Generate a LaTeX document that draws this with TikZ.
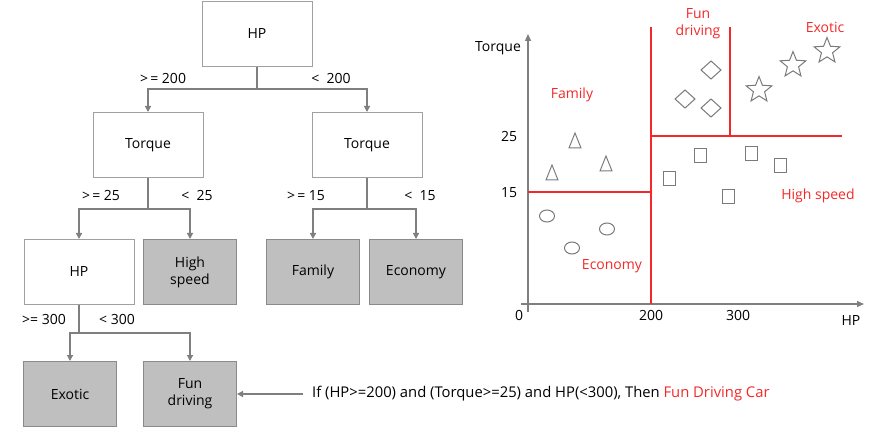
\documentclass[tikz,border=0pt]{standalone}
\usepackage{fontspec}
\setmainfont{Open Sans}
\usetikzlibrary{arrows.meta,shapes.geometric}
\definecolor{boxline}{HTML}{A0A0A0}
\definecolor{boxfill}{HTML}{BFBFBF}
\definecolor{leafline}{HTML}{8A8A8A}
\definecolor{conn}{HTML}{7F7F7F}
\definecolor{redc}{HTML}{F42828}
\definecolor{markc}{HTML}{7A7A7A}
\begin{document}
\begin{tikzpicture}[x=1pt,y=-1pt,
  every node/.style={font=\fontsize{14}{17}\selectfont, text=black},
  splitbox/.style={draw=boxline, line width=1pt, fill=white, minimum width=110pt, minimum height=65pt, inner sep=0pt},
  leafbox/.style={draw=leafline, line width=1pt, fill=boxfill, minimum width=93pt, minimum height=65pt, inner sep=0pt, align=center},
  connline/.style={draw=conn, line width=1.3pt, -{Triangle[length=6pt,width=6pt]}},
  axisline/.style={draw=conn, line width=1.3pt, -{Triangle[length=7pt,width=6pt]}},
  edgelab/.style={inner sep=1pt},
  redlab/.style={text=redc, align=center, inner sep=0pt},
  redline/.style={draw=redc, line width=1.2pt},
  marker/.style={draw=markc, line width=1pt},
]
\useasboundingbox (0,0) rectangle (869,430);
% ---------- tree ----------
\node[splitbox] (hp1) at (257,34) {HP};
\node[splitbox] (tq1) at (148,145) {Torque};
\node[splitbox] (tq2) at (367,145) {Torque};
\node[splitbox] (hp2) at (79,272) {HP};
\node[leafbox] (hs) at (190,272) {High\\speed};
\node[leafbox] (fam) at (313,272) {Family};
\node[leafbox] (eco) at (416,272) {Economy};
\node[leafbox] (exo) at (70,394) {Exotic};
\node[leafbox] (fun) at (190,394) {Fun\\driving};

\draw[connline] (hp1.south) -- ++(0,22) -| (tq1.north);
\draw[connline] (hp1.south) -- ++(0,22) -| (tq2.north);
\draw[connline] (tq1.south) -- ++(0,31) -| (hp2.north);
\draw[connline] (tq1.south) -- ++(0,31) -| (hs.north);
\draw[connline] (tq2.south) -- ++(0,31) -| (fam.north);
\draw[connline] (tq2.south) -- ++(0,31) -| (eco.north);
\draw[connline] (hp2.south) -- ++(0,28) -| (exo.north);
\draw[connline] (hp2.south) -- ++(0,28) -| (fun.north);

\node[edgelab] (l1) at (163,78) {>\,= 200};
\node[edgelab] (l2) at (331,78) {<\ \ 200};
\node[edgelab] (l3) at (101,196) {>\,= 25};
\node[edgelab] (l4) at (197,196) {<\ \ 25};
\node[edgelab] (l5) at (306,196) {>\,= 15};
\node[edgelab] (l6) at (420,196) {<\ \ 15};
\node[edgelab] (l7) at (44,319) {>= 300};
\node[edgelab] (l8) at (117,319) {<\ 300};

\node[anchor=west, inner sep=0pt, font=\fontsize{14.8}{18}\selectfont] (rule) at (312,394) {If (HP>=200) and (Torque>=25) and HP(<300), Then \textcolor{redc}{Fun Driving Car}};
\draw[connline] (rule.west) ++(-9,0) coordinate (rs) -- (fun.east);

% ---------- chart ----------
\coordinate (yb) at (528,312);
\coordinate (yt) at (528,34);
\coordinate (xl) at (521,304);
\coordinate (xr) at (864,304);
\draw[axisline] (yb) -- (yt);
\draw[axisline] (xl) -- (xr);

\node (tql) at (498,48) {Torque};
\node (t25) at (509,137) {25};
\node (t15) at (509,193) {15};
\node (t0) at (519,315) {0};
\node (t200) at (651,315) {200};
\node (t300) at (738,315) {300};
\node (thp) at (851,321) {HP};

\coordinate (v1t) at (651,27);
\coordinate (v1b) at (651,304);
\coordinate (h1l) at (528,192);
\coordinate (h1r) at (651,192);
\coordinate (h2l) at (651,136);
\coordinate (h2r) at (842,136);
\coordinate (v2t) at (730,27);
\coordinate (v2b) at (730,136);
\draw[redline] (v1t) -- (v1b);
\draw[redline] (h1l) -- (h1r);
\draw[redline] (h2l) -- (h2r);
\draw[redline] (v2t) -- (v2b);

\node[redlab] (rfun) at (698,24) {Fun\\driving};
\node[redlab] (rexo) at (825,27) {Exotic};
\node[redlab] (rfam) at (572,95) {Family};
\node[redlab] (rhs) at (818,196) {High speed};
\node[redlab] (reco) at (612,266) {Economy};

% diamonds
\foreach \x/\y in {711/70, 685/99, 711/108}
  \draw[marker] (\x,\y) ++(-10,0) -- ++(10,-9) -- ++(10,9) -- ++(-10,9) -- cycle;
% stars
\foreach \x/\y in {759/90, 793/65, 827/51}
  \node[marker, star, star points=5, star point ratio=2.3, minimum size=27pt, inner sep=0pt] at (\x,\y) {};
% triangles
\foreach \x/\y in {552/173, 575/141, 606/164}
  \draw[marker] (\x,\y) ++(0,-8) -- ++(6,15) -- ++(-12,0) -- cycle;
% squares
\foreach \x/\y in {669/179, 700/156, 728/197, 751/154, 780/166}
  \draw[marker] (\x,\y) ++(-6,-7) rectangle ++(12,14);
% circles
\foreach \x/\y in {547/216, 572/248, 607/229}
  \draw[marker] (\x,\y) ellipse [x radius=7.5, y radius=6];
\end{tikzpicture}
\end{document}
